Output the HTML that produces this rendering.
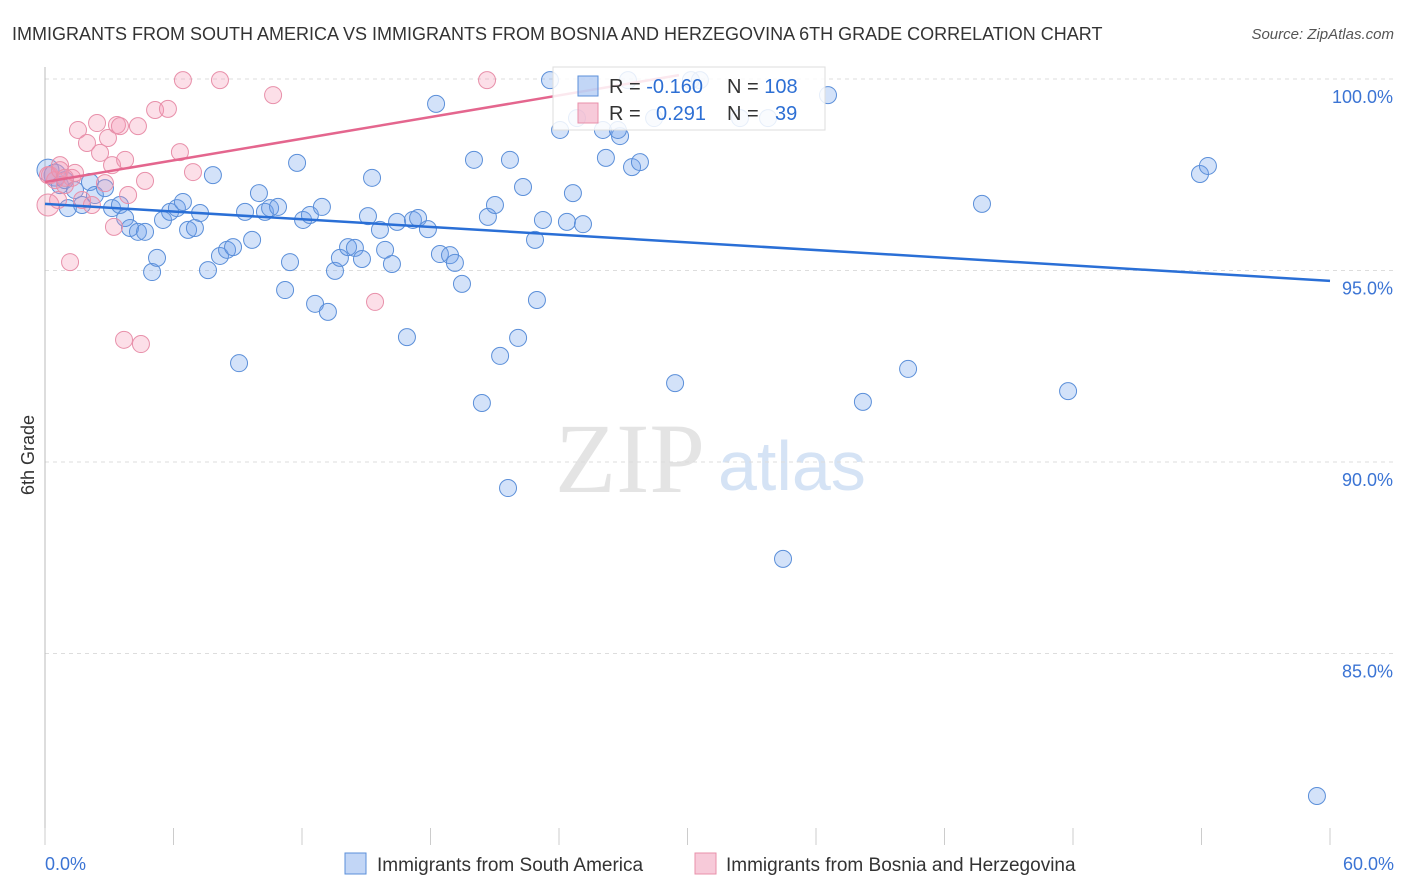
<!DOCTYPE html>
<html><head><meta charset="utf-8">
<style>
body{margin:0;background:#fff;font-family:"Liberation Sans",sans-serif;}
svg{display:block}
</style></head>
<body>
<svg id="chart" width="1406" height="892" xmlns="http://www.w3.org/2000/svg">
<text x="12" y="40" font-size="18" fill="#333">IMMIGRANTS FROM SOUTH AMERICA VS IMMIGRANTS FROM BOSNIA AND HERZEGOVINA 6TH GRADE CORRELATION CHART</text>
<text x="1394" y="39" font-size="15" fill="#555" font-style="italic" text-anchor="end">Source: ZipAtlas.com</text>
<text x="0" y="0" transform="translate(34,455) rotate(-90)" font-size="18" fill="#333" text-anchor="middle">6th Grade</text>
<g>
<text x="555" y="492" font-size="100" font-family="Liberation Serif,serif" fill="#e4e4e4">ZIP</text>
<text x="718" y="490" font-size="70" fill="#d5e3f5">atlas</text>
</g>
<g id="grid"></g>
<g id="axes"></g>
<g id="pts"></g>
<g id="trend"></g>
<g>
<rect x="553" y="67" width="272" height="63" fill="rgba(255,255,255,0.85)" stroke="#ddd"/>
<rect x="578" y="76" width="20" height="20" fill="rgba(120,165,235,0.45)" stroke="#5b8fd9"/>
<rect x="578" y="103" width="20" height="20" fill="rgba(240,150,180,0.5)" stroke="#e890aa"/>
<text x="609" y="93" font-size="20" fill="#333">R = <tspan fill="#2d6fd4">-0.160</tspan></text>
<text x="727" y="93" font-size="20" fill="#333">N = <tspan fill="#2d6fd4">108</tspan></text>
<text x="609" y="120" font-size="20" fill="#333">R = <tspan fill="#2d6fd4" x="656">0.291</tspan></text>
<text x="727" y="120" font-size="20" fill="#333">N = <tspan fill="#2d6fd4" x="775">39</tspan></text>
</g>
<g>
<rect x="345" y="853" width="21" height="21" fill="rgba(120,165,235,0.45)" stroke="#5b8fd9"/>
<text x="377" y="871" font-size="19" fill="#333">Immigrants from South America</text>
<rect x="695" y="853" width="21" height="21" fill="rgba(240,150,180,0.5)" stroke="#e890aa"/>
<text x="726" y="871" font-size="19" fill="#333">Immigrants from Bosnia and Herzegovina</text>
</g>
</svg>
<script>
const yTicks=[100,95,90,85];
const yTickLabels=["100.0%","95.0%","90.0%","85.0%"];
const xTicks=[0,6,12,18,24,30,36,42,48,54,60];
const xEndLabels=["0.0%","60.0%"];
const bluePx=[[48,170],[55,175],[60,185],[65,180],[68,208],[75,190],[82,205],[90,182],[95,195],[105,188],[112,208],[120,205],[125,218],[130,228],[138,232],[145,232],[152,272],[157,258],[163,220],[170,212],[177,208],[183,202],[188,230],[195,228],[200,213],[208,270],[213,175],[220,256],[227,250],[233,247],[239,363],[245,212],[252,240],[259,193],[265,212],[270,208],[278,207],[285,290],[290,262],[297,163],[303,220],[310,215],[315,304],[322,207],[328,312],[335,271],[340,258],[348,247],[355,248],[362,259],[368,216],[372,178],[380,230],[385,250],[392,264],[397,222],[407,337],[413,220],[418,218],[428,229],[436,104],[440,254],[450,255],[455,263],[462,284],[474,160],[482,403],[488,217],[495,205],[500,356],[508,488],[510,160],[518,338],[523,187],[535,240],[537,300],[543,220],[550,80],[560,130],[567,222],[573,193],[583,224],[603,130],[606,158],[620,136],[628,80],[632,167],[640,162],[675,383],[700,80],[740,118],[783,559],[828,95],[863,402],[908,369],[982,204],[1068,391],[1200,174],[1208,166],[1317,796],[577,118],[654,118],[691,80],[618,130],[768,118]];
const pinkPx=[[48,205],[50,175],[55,180],[60,165],[65,185],[70,262],[72,178],[78,130],[82,200],[87,143],[92,205],[97,123],[100,153],[105,183],[108,138],[112,165],[114,227],[117,125],[120,126],[125,160],[128,195],[138,126],[141,344],[124,340],[145,181],[155,110],[168,109],[180,152],[183,80],[193,172],[220,80],[273,95],[375,302],[487,80],[48,175],[60,170],[58,200],[75,173],[65,178]];
// data values (x in %, y in %) derived from reading the picture
const blueX=bluePx.map(p=>+((p[0]-45)/1285*60).toFixed(2));
const blueY=bluePx.map(p=>+(100-(p[1]-79)/38.3).toFixed(2));
const pinkX=pinkPx.map(p=>+((p[0]-45)/1285*60).toFixed(2));
const pinkY=pinkPx.map(p=>+(100-(p[1]-79)/38.3).toFixed(2));
const blueTrendX=[0,60], blueTrendY=[96.74,94.73];
const pinkTrendX=[0,29.6], pinkTrendY=[97.31,100.1];
const sx=v=>45+v/60*1285, sy=v=>79+(100-v)*38.3;
const NS="http://www.w3.org/2000/svg";
function mk(t,a,parent){const e=document.createElementNS(NS,t);for(const k in a)e.setAttribute(k,a[k]);document.getElementById(parent).appendChild(e);return e;}
yTicks.forEach((v,i)=>{
 const l=mk('line',{x1:45,x2:1395,y1:sy(v),y2:sy(v),stroke:'#ddd','stroke-dasharray':'4,4'},'grid');
 
 
 const t=mk('text',{x:1393,y:sy(v)+24,'font-size':18,fill:'#3b74d4','text-anchor':'end'},'axes');
 t.textContent=yTickLabels[i];
 
 
});
const ax=mk('line',{x1:45,x2:45,y1:67,y2:845,stroke:'#bbb'},'axes');


xTicks.forEach(v=>{
 const l=mk('line',{x1:sx(v),x2:sx(v),y1:828,y2:845,stroke:'#ccc'},'axes');
 
 
});
[[0,'start',45],[60,'end',1394]].forEach((d,i)=>{
 const t=mk('text',{x:d[2],y:870,'font-size':18,fill:'#3b74d4','text-anchor':d[1]},'axes');
 t.textContent=xEndLabels[i];
 
 
});
blueX.forEach((x,i)=>{
 const c=mk('circle',{cx:sx(x),cy:sy(blueY[i]),r:(i<2?11:8.5),fill:'rgba(110,160,235,0.3)',stroke:'#5b8fd9','stroke-width':1},'pts');
 
 
});
pinkX.forEach((x,i)=>{
 const c=mk('circle',{cx:sx(x),cy:sy(pinkY[i]),r:(i<1?11:8.5),fill:'rgba(245,150,180,0.3)',stroke:'#e890aa','stroke-width':1},'pts');
 
 
});
const bl=mk('line',{x1:sx(blueTrendX[0]),y1:sy(blueTrendY[0]),x2:sx(blueTrendX[1]),y2:sy(blueTrendY[1]),stroke:'#2a6fd6','stroke-width':2.5},'trend');


const pl=mk('line',{x1:sx(pinkTrendX[0]),y1:sy(pinkTrendY[0]),x2:sx(pinkTrendX[1]),y2:sy(pinkTrendY[1]),stroke:'#e4668e','stroke-width':2.5},'trend');


</script>
</body></html>
